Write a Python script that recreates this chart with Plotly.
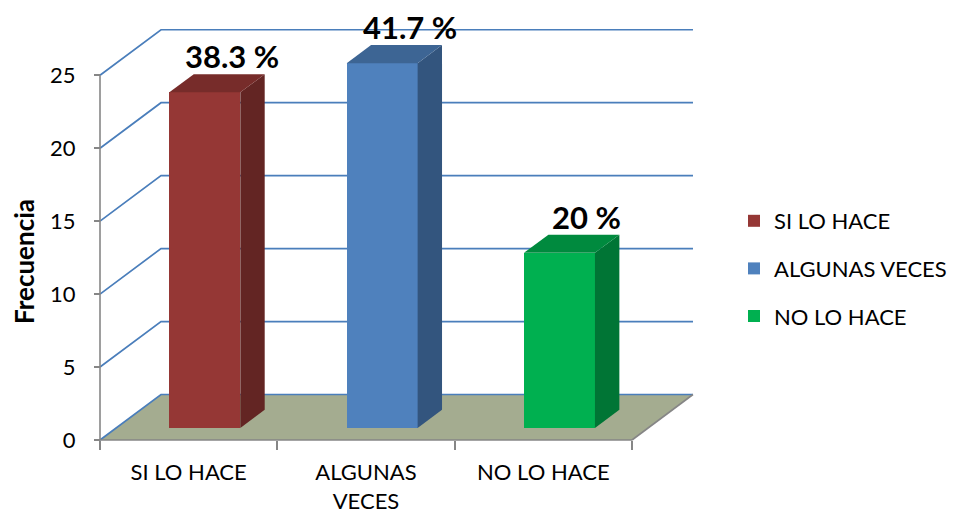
import plotly.graph_objects as go

# ---------------- data ----------------
categories = ["SI LO HACE", "ALGUNAS VECES", "NO LO HACE"]
x_tick_labels = ["SI LO HACE", "ALGUNAS<br>VECES", "NO LO HACE"]
frecuencia = [23, 25, 12]
pct_labels = ["38.3 %", "41.7 %", "20 %"]
y_ticks = [0, 5, 10, 15, 20, 25]

front_colors = ["#953735", "#4F81BD", "#00B050"]
top_colors = ["#772C2A", "#3D6594", "#008A3E"]
side_colors = ["#632523", "#33557E", "#007535"]

# ---------------- geometry (pixels -> axis units) ----------------
OFF = 8                                # page body margin compensation
W, H = 955, 519
PL, PR, PT, PB = 80 - OFF, 720 - OFF, 0, 515 - OFF   # plot area box in px
X0, Y0 = 100 - OFF, 440 - OFF          # px of front-left origin
XU, YU = 177.33, 14.59                 # px per category / per unit
x_range = [-0.5 - (X0 - PL) / XU, -0.5 + (PR - X0) / XU]
y_range = [-(PB - Y0) / YU, (Y0 - PT) / YU]
DX, DY = 61 / XU, 45.5 / YU            # full depth offset of back wall
D0, D1 = 0.265, 0.665                  # bar depth span (fraction)
BW = 0.4                               # bar width in category units
n = len(categories)
XL, XRT = -0.5, n - 0.5
ymax = max(y_ticks)

GRAY = "#868686"
GRID = "#4A7EBB"
FLOOR = "#A4AC90"
FONT = "Lato, Carlito, 'Liberation Sans', sans-serif"

shapes = []
# floor
shapes.append(dict(type="path", layer="below", xref="x", yref="y",
                   path=f"M{XL},0 L{XRT},0 L{XRT+DX},{DY} L{XL+DX},{DY} Z",
                   fillcolor=FLOOR, line=dict(width=0)))
# wall gridlines (left side + back)
for v in y_ticks:
    shapes.append(dict(type="path", layer="below", xref="x", yref="y",
                       path=f"M{XL},{v} L{XL+DX},{v+DY} L{XRT+DX},{v+DY}",
                       line=dict(color=GRID, width=1.7)))
# axis lines
shapes.append(dict(type="line", layer="below", xref="x", yref="y",
                   x0=XL, y0=0, x1=XL, y1=ymax, line=dict(color=GRAY, width=1.6)))
shapes.append(dict(type="line", layer="below", xref="x", yref="y",
                   x0=XL, y0=0, x1=XRT, y1=0, line=dict(color=GRAY, width=1.6)))
shapes.append(dict(type="line", layer="below", xref="x", yref="y",
                   x0=XRT, y0=0, x1=XRT + DX, y1=DY, line=dict(color=GRAY, width=1.6)))

fig = go.Figure()
dd = D1 - D0
annotations = []
for i, (cat, v) in enumerate(zip(categories, frecuencia)):
    xc = i + D0 * DX
    base = D0 * DY
    fig.add_trace(go.Bar(x=[xc], y=[v], base=[base], width=[BW], name=cat,
                         legendgroup=cat, marker=dict(color=front_colors[i], line=dict(width=0)),
                         hoverinfo="skip"))
    xl, xr = xc - BW / 2, xc + BW / 2
    top = base + v
    # side face
    fig.add_trace(go.Scatter(x=[xr, xr + dd * DX, xr + dd * DX, xr, xr],
                             y=[base, base + dd * DY, top + dd * DY, top, base],
                             fill="toself", fillcolor=side_colors[i], mode="lines",
                             line=dict(width=0), showlegend=False, hoverinfo="skip"))
    # top face
    fig.add_trace(go.Scatter(x=[xl, xr, xr + dd * DX, xl + dd * DX, xl],
                             y=[top, top, top + dd * DY, top + dd * DY, top],
                             fill="toself", fillcolor=top_colors[i], mode="lines",
                             line=dict(width=0), showlegend=False, hoverinfo="skip"))
    annotations.append(dict(x=i + D1 * DX, y=v + D1 * DY, xref="x", yref="y",
                            text=f"<b>{pct_labels[i]}</b>", showarrow=False,
                            yanchor="bottom", xanchor="center", xshift=3, yshift=-2,
                            borderpad=0,
                            font=dict(size=31, color="black", family=FONT)))

fig.update_layout(
    width=W, height=H, autosize=False,
    margin=dict(l=PL, r=W - PR, t=PT, b=H - PB, pad=0),
    paper_bgcolor="white", plot_bgcolor="white",
    font=dict(family=FONT, size=22, color="black"),
    shapes=shapes, annotations=annotations,
    bargap=0,
    showlegend=True,
    legend=dict(x=(734 - OFF - PL) / (PR - PL), xanchor="left",
                y=(PB - (200 - OFF)) / (PB - PT), yanchor="top",
                font=dict(size=22, color="black", family=FONT),
                tracegroupgap=16, bgcolor="rgba(0,0,0,0)"),
    xaxis=dict(range=x_range, anchor="free", position=(PB - Y0) / (PB - PT),
               showgrid=False, zeroline=False, showline=False,
               tickmode="array", tickvals=list(range(n)), ticktext=x_tick_labels,
               ticks="", ticklabelstandoff=17, tickfont=dict(size=22),
               minor=dict(tickmode="array", tickvals=[k - 0.5 for k in range(n + 1)],
                          ticks="outside", ticklen=9, tickcolor=GRAY, tickwidth=1.6,
                          showgrid=False),
               fixedrange=True),
    yaxis=dict(range=y_range, anchor="free", position=(X0 - PL) / (PR - PL),
               showgrid=False, zeroline=False, showline=False,
               tickmode="array", tickvals=y_ticks,
               ticks="outside", ticklen=6, tickcolor=GRAY, tickwidth=1.6,
               ticklabelstandoff=14, tickfont=dict(size=22),
               title=dict(text="<b>Frecuencia</b>", font=dict(size=26), standoff=13),
               fixedrange=True),
)

fig.write_html("out.html")
